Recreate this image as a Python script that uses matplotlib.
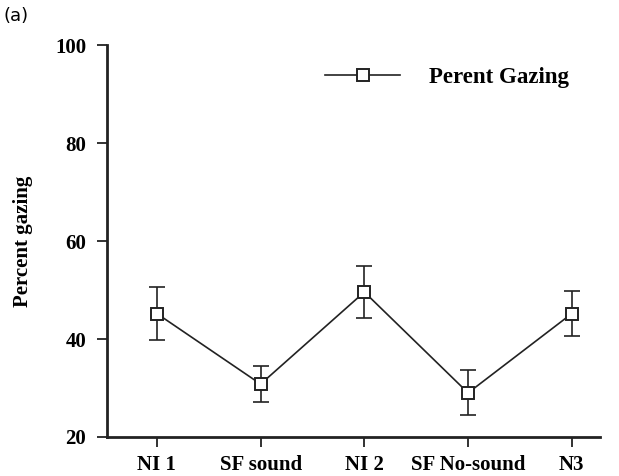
import matplotlib.pyplot as plt
import numpy as np

plt.rcParams['font.family'] = ['Liberation Serif', 'DejaVu Serif']

conditions = ['NI 1', 'SF sound', 'NI 2', 'SF No-sound', 'N3']
gazing = [45.2, 30.8, 49.6, 29.0, 45.2]
err = [5.4, 3.7, 5.3, 4.6, 4.6]

fig = plt.figure(figsize=(6.19, 4.76), dpi=100)
ax = fig.add_axes([0.173, 0.082, 0.796, 0.823])

x = np.arange(len(conditions))
ax.errorbar(x, gazing, yerr=err, fmt='none', ecolor='#222222', elinewidth=1.2,
            capsize=6, capthick=1.2, zorder=1)
ax.plot(x, gazing, color='#222222', lw=1.2, marker='s', markersize=9,
        markerfacecolor='white', markeredgecolor='#222222', markeredgewidth=1.4,
        label='Perent Gazing', zorder=2)

ax.set_xlim(-0.48, 4.27)
ax.set_ylim(20, 100)
ax.set_yticks([20, 40, 60, 80, 100])
ax.set_xticks(x)
ax.set_xticklabels(conditions)
for lab in ax.get_xticklabels() + ax.get_yticklabels():
    lab.set_fontweight('bold')
    lab.set_fontsize(15)
ax.tick_params(direction='out', length=7, width=1.3, color='#222222')
ax.tick_params(axis='y', pad=8)
ax.tick_params(axis='x', pad=6)
for s in ['top', 'right']:
    ax.spines[s].set_visible(False)
for s in ['left', 'bottom']:
    ax.spines[s].set_linewidth(2.0)
    ax.spines[s].set_color('#222222')

ax.set_ylabel('Percent gazing', fontsize=15, fontweight='bold', labelpad=16)

leg = ax.legend(loc='upper left', bbox_to_anchor=(0.40, 0.997), frameon=False,
                handlelength=3.3, handletextpad=1.25,
                prop={'weight': 'bold', 'size': 16.5})

fig.text(0.006, 0.955, '(a)', fontsize=13, family='DejaVu Sans')

fig.savefig('out.png', dpi=100)
